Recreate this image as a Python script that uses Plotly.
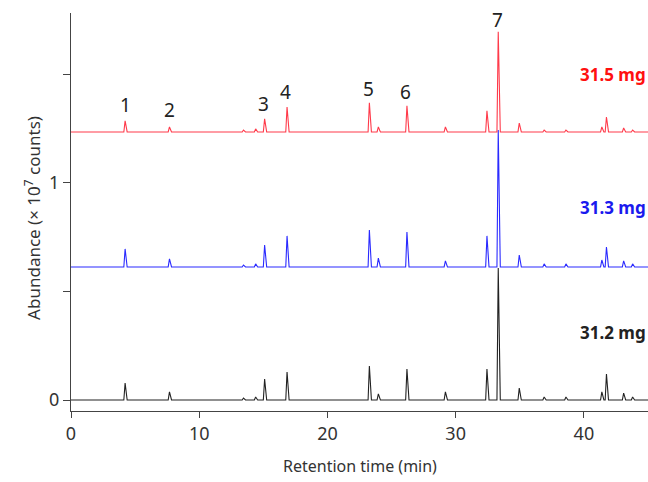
import plotly.graph_objects as go

# Retention times (min) of the detected peaks
peak_times = [4.22, 7.68, 13.45, 14.4, 15.1, 16.85, 23.27, 23.97, 26.2, 29.2,
              32.44, 33.32, 34.96, 36.9, 38.6, 41.4, 41.76, 43.1, 43.8]

# Peak heights (x 10^7 counts) above each baseline
red_heights   = [0.051, 0.023, 0.009, 0.014, 0.060, 0.115, 0.134, 0.023, 0.120, 0.023,
                 0.097, 0.461, 0.041, 0.009, 0.009, 0.023, 0.069, 0.018, 0.009]
blue_heights  = [0.083, 0.037, 0.009, 0.014, 0.101, 0.143, 0.170, 0.041, 0.161, 0.028,
                 0.143, 0.631, 0.055, 0.014, 0.014, 0.032, 0.092, 0.028, 0.014]
black_heights = [0.078, 0.037, 0.009, 0.014, 0.097, 0.129, 0.157, 0.028, 0.143, 0.037,
                 0.143, 0.608, 0.055, 0.014, 0.014, 0.037, 0.120, 0.032, 0.014]

# Vertical offsets of the stacked chromatograms
offsets = {"31.2 mg": 0.0, "31.3 mg": 0.613, "31.5 mg": 1.235}

sample_labels = ["31.2 mg", "31.3 mg", "31.5 mg"]
peak_numbers = ["1", "2", "3", "4", "5", "6", "7"]
peak_label_times = [4.25, 7.7, 15.0, 16.7, 23.2, 26.1, 33.3]
peak_label_heights = [1.36, 1.336, 1.364, 1.419, 1.433, 1.419, 1.751]

x_ticks = [0, 10, 20, 30, 40]
y_ticks = [0, 1]
x_end = 45.0

def build_trace(times, heights, base, w=0.1):
    xs, ys = [0.0], [base]
    for t, h in sorted(zip(times, heights)):
        xs += [t - w, t, t + w * 1.6]
        ys += [base, base + h, base]
    xs.append(x_end)
    ys.append(base)
    return xs, ys

colors = {"31.2 mg": "#222222", "31.3 mg": "#2a2aff", "31.5 mg": "#ff3a4a"}
label_colors = {"31.2 mg": "#222222", "31.3 mg": "#1a1aee", "31.5 mg": "#ff1010"}
heights_map = {"31.2 mg": black_heights, "31.3 mg": blue_heights, "31.5 mg": red_heights}
label_y = {"31.2 mg": 0.309, "31.3 mg": 0.885, "31.5 mg": 1.498}

font_family = "Noto Sans, Roboto, Arial, sans-serif"

fig = go.Figure()
for name in sample_labels:
    xs, ys = build_trace(peak_times, heights_map[name], offsets[name])
    fig.add_trace(go.Scatter(x=xs, y=ys, mode="lines",
                             line=dict(color=colors[name], width=1.1),
                             name=name, showlegend=False, hoverinfo="skip"))

annotations = []
for name in sample_labels:
    annotations.append(dict(x=1.0, xref="paper", xanchor="right", y=label_y[name],
                            yref="y", text="<b>" + name + "</b>", showarrow=False,
                            font=dict(size=17, color=label_colors[name], family=font_family)))
for num, t, h in zip(peak_numbers, peak_label_times, peak_label_heights):
    annotations.append(dict(x=t, y=h, xref="x", yref="y", text=num, showarrow=False,
                            font=dict(size=19, color="#222222", family=font_family)))
annotations.append(dict(x=-0.066, xref="paper", xanchor="center",
                        y=0.485, yref="paper", yanchor="middle",
                        text="Abundance (× 10<sup>7</sup> counts)", textangle=-90,
                        showarrow=False,
                        font=dict(size=17, color="#333333", family=font_family)))
annotations.append(dict(x=0.5, xref="paper", xanchor="center",
                        y=-0.138, yref="paper", yanchor="middle",
                        text="Retention time (min)", showarrow=False,
                        font=dict(size=16, color="#333333", family=font_family)))

fig.update_layout(
    width=648, height=482,
    margin=dict(l=71, r=0, t=13, b=71),
    plot_bgcolor="white", paper_bgcolor="white",
    font=dict(family=font_family, color="#333333"),
    annotations=annotations,
    xaxis=dict(range=[0, x_end], tickvals=x_ticks,
               showline=True, linecolor="#444444", linewidth=1,
               ticks="outside", ticklen=6, tickcolor="#444444",
               showgrid=False, zeroline=False,
               tickfont=dict(size=18, color="#333333")),
    yaxis=dict(range=[-0.0507, 1.783], tickvals=y_ticks,
               showline=True, linecolor="#444444", linewidth=1,
               ticks="outside", ticklen=7, tickcolor="#444444",
               minor=dict(dtick=0.5, tick0=0, ticks="outside", ticklen=7,
                          tickcolor="#444444", showgrid=False),
               showgrid=False, zeroline=False,
               tickfont=dict(size=18, color="#333333")),
)

# remove the default page margin so the 648x482 figure fills the window exactly
fig.write_html("out.html",
               config={"displayModeBar": False},
               post_script="document.body.style.margin='0px';"
                           "document.body.style.overflow='hidden';")
